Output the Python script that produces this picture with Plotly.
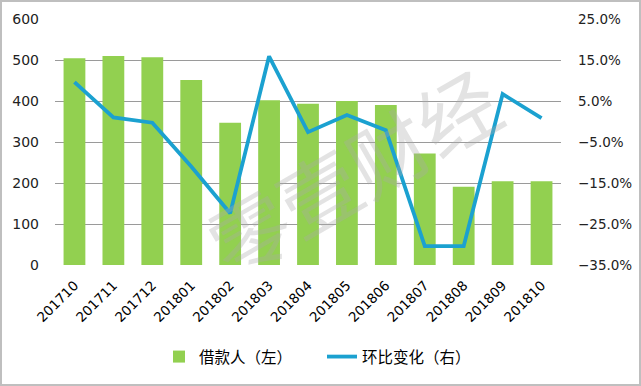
import plotly.graph_objects as go

months = ["201710", "201711", "201712", "201801", "201802", "201803", "201804",
          "201805", "201806", "201807", "201808", "201809", "201810"]
borrowers = [504, 510, 507, 451, 347, 402, 393, 400, 390, 272, 191, 204, 204]
mom_change = [0.096, 0.010, -0.003, -0.11, -0.224, 0.159, -0.026, 0.016, -0.021,
              -0.304, -0.304, 0.067, 0.008]
left_ticks = [0, 100, 200, 300, 400, 500, 600]
right_ticks = [-0.35, -0.25, -0.15, -0.05, 0.05, 0.15, 0.25]

font_num = "DejaVu Sans"
font_cjk = "Noto Sans CJK SC"

fig = go.Figure()
fig.add_trace(go.Bar(
    x=months, y=borrowers, name="借款人（左）",
    marker=dict(color="#92D050", line=dict(width=0)),
    yaxis="y",
))
fig.add_trace(go.Scatter(
    x=months, y=mom_change, name="环比变化（右）",
    mode="lines", line=dict(color="#1BA1D0", width=3.8),
    yaxis="y2",
))

W, H = 641, 386
ml, mr, mt, mb = 55, 80, 19, 121
pw, ph = W - ml - mr, H - mt - mb

fig.update_layout(
    width=W, height=H,
    margin=dict(l=ml, r=mr, t=mt, b=mb, autoexpand=False),
    paper_bgcolor="white", plot_bgcolor="white",
    bargap=0.44,
    showlegend=True,
    legend=dict(orientation="h", x=(159 - ml) / pw, xanchor="left",
                y=-(357 - (H - mb)) / ph, yanchor="middle",
                font=dict(family=font_cjk, size=15.5, color="#000000"),
                entrywidth=118, entrywidthmode="pixels"),
    xaxis=dict(
        tickangle=-45, showgrid=False, showline=False, ticks="",
        automargin=False, ticklabelshift=0, ticklabelstandoff=9,
        tickfont=dict(family=font_num, size=13.5, color="#000000"),
    ),
    yaxis=dict(
        range=[0, 600], tickvals=left_ticks, automargin=False,
        showgrid=True, gridcolor="#9A9A9A", gridwidth=1,
        zeroline=False, showline=False, ticks="", ticklabelstandoff=15,
        tickfont=dict(family=font_num, size=14, color="#222222"),
    ),
    yaxis2=dict(
        range=[-0.35, 0.25], tickvals=right_ticks, tickformat=".1%",
        overlaying="y", side="right", showgrid=False, zeroline=False,
        ticks="", ticklabelstandoff=16, automargin=False,
        tickfont=dict(family=font_num, size=13.5, color="#222222"),
    ),
    annotations=[dict(
        text="零壹财经", xref="paper", yref="paper",
        x=(352 - ml) / pw, y=(H - mb - 170) / ph,
        showarrow=False, textangle=-30,
        font=dict(family=font_cjk, size=80, color="rgba(170,170,170,0.33)"),
    )],
    shapes=[dict(
        type="rect", xref="paper", yref="paper",
        x0=-(ml - 1) / pw, x1=1 + (mr - 1) / pw,
        y0=-(mb - 1) / ph, y1=1 + (mt - 1) / ph,
        line=dict(color="#BFBFBF", width=2), fillcolor="rgba(0,0,0,0)",
        layer="above",
    )],
)

fig.write_html("out.html", config={"displayModeBar": False},
               post_script="document.body.style.margin='0';")
